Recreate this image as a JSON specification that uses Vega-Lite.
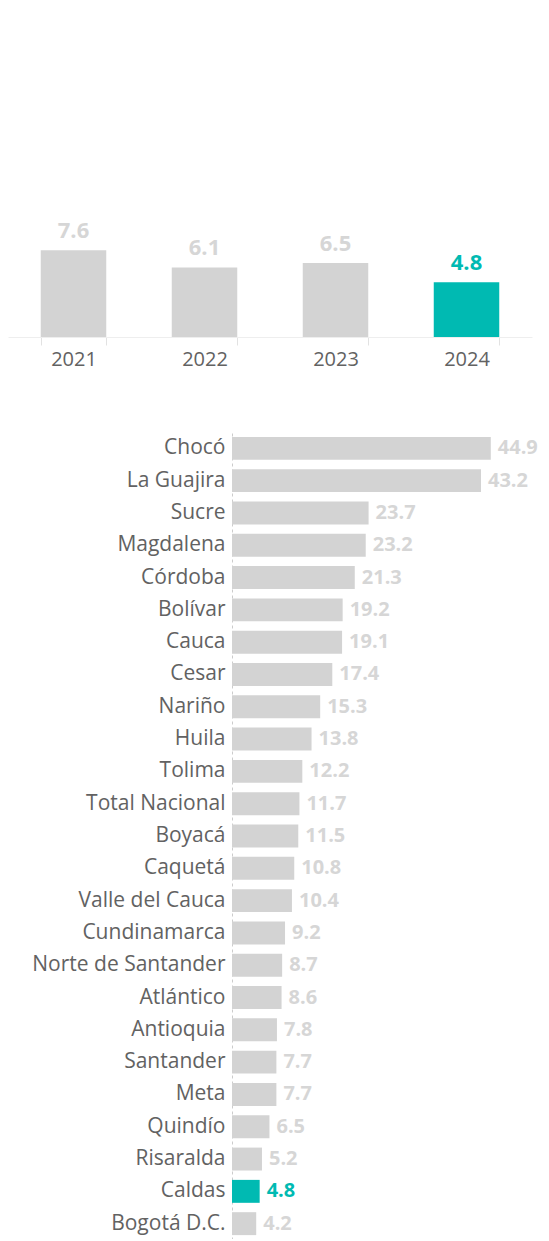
{
  "$schema": "https://vega.github.io/schema/vega-lite/v6.json",
  "padding": {"top": 220, "left": 8, "right": 0, "bottom": 0},
  "spacing": 64,
  "config": {
    "view": {"stroke": null},
    "font": "Open Sans",
    "axis": {"labelFont": "Open Sans", "titleFont": "Open Sans"}
  },
  "vconcat": [
    {
      "width": 317,
      "height": 114,
      "data": {"values": [
        {"year": "2021", "value": 7.6},
        {"year": "2022", "value": 6.1},
        {"year": "2023", "value": 6.5},
        {"year": "2024", "value": 4.8}
      ]},
      "encoding": {
        "x": {"field": "year", "type": "nominal", "sort": null,
          "scale": {"paddingInner": 0.5, "paddingOuter": 0.25, "range": [-224, 300]},
          "axis": {"title": null, "labelAngle": 0, "domainColor": "#eeeeee", "tickColor": "#e2e2e2", "tickSize": 8, "tickBand": "extent", "labelFontSize": 20, "labelColor": "#626262", "labelPadding": 4}},
        "y": {"field": "value", "type": "quantitative", "scale": {"domain": [0, 10]}, "axis": null}
      },
      "layer": [
        {"mark": {"type": "bar"},
          "encoding": {"color": {"condition": {"test": "datum.year === '2024'", "value": "#00bab2"}, "value": "#d3d3d3"}}},
        {"mark": {"type": "text", "dy": -12, "baseline": "alphabetic", "fontWeight": "bold", "fontSize": 22},
          "encoding": {"text": {"field": "value", "type": "quantitative", "format": ".1f"},
            "color": {"condition": {"test": "datum.year === '2024'", "value": "#00bab2"}, "value": "#d6d6d6"}}}
      ]
    },
    {
      "width": 317,
      "height": 806,
      "data": {"values": [
        {"dep": "Chocó", "value": 44.9},
        {"dep": "La Guajira", "value": 43.2},
        {"dep": "Sucre", "value": 23.7},
        {"dep": "Magdalena", "value": 23.2},
        {"dep": "Córdoba", "value": 21.3},
        {"dep": "Bolívar", "value": 19.2},
        {"dep": "Cauca", "value": 19.1},
        {"dep": "Cesar", "value": 17.4},
        {"dep": "Nariño", "value": 15.3},
        {"dep": "Huila", "value": 13.8},
        {"dep": "Tolima", "value": 12.2},
        {"dep": "Total Nacional", "value": 11.7},
        {"dep": "Boyacá", "value": 11.5},
        {"dep": "Caquetá", "value": 10.8},
        {"dep": "Valle del Cauca", "value": 10.4},
        {"dep": "Cundinamarca", "value": 9.2},
        {"dep": "Norte de Santander", "value": 8.7},
        {"dep": "Atlántico", "value": 8.6},
        {"dep": "Antioquia", "value": 7.8},
        {"dep": "Santander", "value": 7.7},
        {"dep": "Meta", "value": 7.7},
        {"dep": "Quindío", "value": 6.5},
        {"dep": "Risaralda", "value": 5.2},
        {"dep": "Caldas", "value": 4.8},
        {"dep": "Bogotá D.C.", "value": 4.2}
      ]},
      "encoding": {
        "y": {"field": "dep", "type": "nominal", "sort": null,
          "scale": {"paddingInner": 0.29, "paddingOuter": 0.12},
          "axis": {"title": null, "ticks": false, "domainDash": [3, 3], "domainColor": "#cccccc", "labelFontSize": 21, "labelColor": "#626262", "labelPadding": 7, "minExtent": 224, "maxExtent": 224, "labelLimit": 0}},
        "x": {"field": "value", "type": "quantitative", "scale": {"domain": [0, 55]},
          "axis": {"title": null, "labels": false, "ticks": false, "grid": false, "domainColor": "#eeeeee"}}
      },
      "layer": [
        {"mark": {"type": "bar"},
          "encoding": {"color": {"condition": {"test": "datum.dep === 'Caldas'", "value": "#00bab2"}, "value": "#d3d3d3"}}},
        {"mark": {"type": "text", "align": "left", "dx": 7, "baseline": "middle", "fontWeight": "bold", "fontSize": 20},
          "encoding": {"text": {"field": "value", "type": "quantitative", "format": ".1f"},
            "color": {"condition": {"test": "datum.dep === 'Caldas'", "value": "#00bab2"}, "value": "#d6d6d6"}}}
      ]
    }
  ]
}
